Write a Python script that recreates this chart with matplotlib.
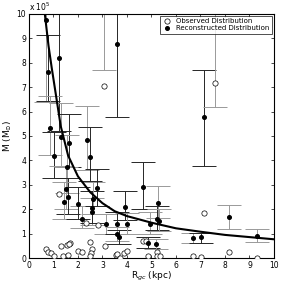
import numpy as np
import matplotlib.pyplot as plt

# observed distribution (open circles), units of 1e5 Msun
obs_x = [0.71, 0.78, 0.91, 1.02, 1.32, 1.56, 1.66, 1.62, 1.39, 1.59, 2.00, 2.16,
         2.48, 2.57, 2.52, 2.49, 3.12, 3.55, 3.58, 3.71, 3.88, 3.99, 4.64, 4.78,
         4.87, 5.21, 5.24, 5.35, 6.69, 7.02, 7.14, 8.16, 9.30, 1.22, 2.33, 2.80,
         3.06, 7.59]
obs_y = [0.38, 0.25, 0.20, 0.07, 0.48, 0.55, 0.61, 0.58, 0.08, 0.12, 0.30, 0.25,
         0.66, 0.38, 0.20, 0.07, 0.48, 0.14, 0.16, 0.00, 0.20, 0.30, 0.71, 0.71,
         0.07, 0.25, 0.07, 0.07, 0.07, 0.05, 1.85, 0.25, 0.00, 2.62, 1.45, 1.35,
         7.05, 7.17]

# reconstructed distribution (filled dots) with asymmetric errors
rec_x = [0.70, 0.79, 1.22, 3.58, 7.14, 0.86, 1.02, 1.30, 1.65, 2.37,
         2.49, 1.57, 1.50, 1.59, 1.42, 2.00, 2.17, 2.56, 2.56, 2.60,
         2.78, 3.14, 3.58, 3.60, 3.68, 3.92, 4.00, 4.65, 4.94, 5.25,
         5.22, 5.30, 4.88, 5.20, 6.68, 7.02, 8.16, 9.31]
rec_y = [9.75, 7.62, 8.20, 8.76, 5.78, 5.33, 4.18, 4.96, 4.72, 4.82,
         4.15, 3.75, 2.83, 2.50, 2.30, 2.20, 1.62, 1.87, 2.05, 2.40,
         2.85, 1.39, 1.39, 0.98, 0.86, 2.10, 1.39, 2.93, 1.40, 2.25,
         1.60, 1.52, 0.62, 0.57, 0.83, 0.86, 1.68, 0.92]
rec_lo = [3.35, 1.20, 3.00, 3.00, 2.00, 1.10, 0.90, 1.20, 1.00, 1.20,
          1.00, 1.10, 0.80, 0.70, 0.70, 0.60, 0.40, 0.50, 0.60, 0.60,
          0.70, 0.40, 0.40, 0.30, 0.30, 0.55, 0.40, 0.90, 0.40, 0.60,
          0.45, 0.40, 0.20, 0.20, 0.20, 0.23, 0.50, 0.25]
rec_hi = [1.50, 1.50, 3.00, 2.50, 1.94, 1.30, 1.00, 1.40, 1.20, 1.40,
          1.20, 1.30, 0.90, 0.80, 0.80, 0.70, 0.50, 0.60, 0.70, 0.70,
          0.80, 0.40, 0.50, 0.30, 0.30, 0.65, 0.45, 1.00, 0.50, 0.70,
          0.55, 0.50, 0.25, 0.20, 0.21, 0.18, 0.49, 0.26]
rec_gray = [1, 0, 0, 0, 0, 1, 0, 1, 0, 1,
            0, 1, 1, 0, 1, 0, 1, 1, 0, 1,
            0, 1, 0, 1, 0, 0, 1, 0, 1, 1,
            0, 1, 0, 1, 1, 0, 1, 1]

# error bars whose centre lies off the chart
off_x = [3.06, 7.59]
off_lo = [7.72, 6.19]

# fitted curve
fit_x = [0.65, 0.8, 0.93, 1.1, 1.3, 1.6, 2.0, 2.5, 3.0, 3.5, 4.0, 5.0,
         6.0, 7.0, 8.0, 9.0, 10.0]
fit_y = [10.0, 8.7, 7.8, 6.7, 5.4, 4.2, 3.35, 2.7, 2.25, 1.92, 1.72, 1.45,
         1.22, 1.08, 0.95, 0.86, 0.77]

fig = plt.figure(figsize=(2.86, 2.83), dpi=100)
ax = fig.add_axes([0.101, 0.088, 0.857, 0.863])

for x, y, lo, hi, g in zip(rec_x, rec_y, rec_lo, rec_hi, rec_gray):
    c = '0.6' if g else '0.15'
    ax.errorbar([x], [y], yerr=[[lo], [hi]], fmt='none', ecolor=c,
                elinewidth=0.7, capsize=8.5, capthick=0.7, zorder=2)
for x, lo in zip(off_x, off_lo):
    ax.errorbar([x], [lo + 3], yerr=[[3]], fmt='none', ecolor='0.6',
                elinewidth=0.7, capsize=8.5, capthick=0.7, zorder=2)

ax.plot(fit_x, fit_y, color='k', lw=1.5, zorder=4)
ax.plot(obs_x, obs_y, 'o', mfc='white', mec='k', mew=0.5, ms=3.8,
        ls='none', label='Observed Distribution', zorder=5)
ax.plot(rec_x, rec_y, 'o', color='k', ms=2.6, ls='none',
        label='Reconstructed Distribution', zorder=6)

ax.set_xlim(0, 10)
ax.set_ylim(0, 10)
ax.set_xticks(range(11))
ax.set_yticks(range(11))
ax.tick_params(direction='in', length=2.5, width=0.5, labelsize=5.5,
               top=True, right=True, pad=2)
for s in ax.spines.values():
    s.set_linewidth(0.8)
ax.set_xlabel('R$_{gc}$ (kpc)', fontsize=6.5, labelpad=0)
ax.set_ylabel('M (M$_{\\odot}$)', fontsize=6.5, labelpad=2)
ax.text(0.0, 1.005, 'x 10$^5$', transform=ax.transAxes, fontsize=5.5,
        va='bottom', ha='left')

leg = ax.legend(loc='upper right', fontsize=5, frameon=True, fancybox=False,
                edgecolor='k', borderpad=0.3, labelspacing=0.2,
                handletextpad=0.8, borderaxespad=0.3, handlelength=1.2)
leg.get_frame().set_linewidth(0.6)

fig.savefig('out.png', dpi=100)
